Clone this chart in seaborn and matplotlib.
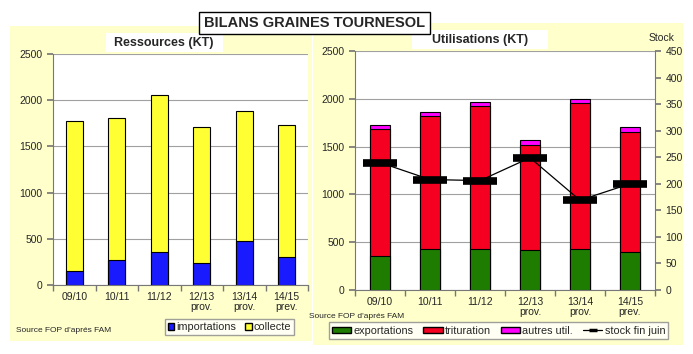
import matplotlib
matplotlib.use("Agg")
import matplotlib.pyplot as plt
from matplotlib.patches import Rectangle, Patch
from matplotlib.lines import Line2D
import seaborn as sns

# data
campagnes = ["09/10", "10/11", "11/12", "12/13\nprov.", "13/14\nprov.", "14/15\nprev."]
importations = [151, 273, 356, 241, 478, 306]
collecte = [1622, 1533, 1698, 1468, 1403, 1424]
exportations = [352, 425, 429, 415, 425, 401]
trituration = [1336, 1399, 1499, 1098, 1528, 1248]
autres_util = [34, 34, 42, 53, 48, 53]
stock_fin_juin = [240, 208, 206, 249, 169, 200]

W, H = 693, 354
sns.set_theme(style="white")
plt.rcParams['font.family'] = ['Liberation Sans', 'DejaVu Sans']

BLUE = "#1a1aff"
YELLOW = "#ffff33"
GREEN = "#1e7d00"
RED = "#f50020"
MAGENTA = "#ff00ff"
PANEL = "#ffffcc"

fig = plt.figure(figsize=(W / 100, H / 100), dpi=100)
fig.patch.set_facecolor("white")

def px(x0, y0, x1, y1):
    #convert pixel box (top-left origin) to figure fraction
    return [x0 / W, 1 - y1 / H, (x1 - x0) / W, (y1 - y0) / H]

def box(x0, y0, x1, y1, fc, ec="none", lw=0.8, z=-5):
    r = Rectangle((x0 / W, 1 - y1 / H), (x1 - x0) / W, (y1 - y0) / H,
                  transform=fig.transFigure, facecolor=fc, edgecolor=ec, linewidth=lw, zorder=z)
    fig.patches.append(r)

# panel backgrounds
box(10, 26, 312, 341, PANEL)
box(313, 23, 683, 345, PANEL)
box(106, 33, 223, 52, "white", z=-4)
box(412, 30, 548, 49, "white", z=-4)
box(199, 12, 430, 34, "white", ec="black", lw=1.0, z=5)
fig.text(314.5 / W, 1 - 23 / H, "BILANS GRAINES TOURNESOL", ha="center", va="center",
         fontsize=10.5, fontweight="bold", zorder=6)
fig.text(164 / W, 1 - 43 / H, "Ressources (KT)", ha="center", va="center", fontsize=9, fontweight="bold")
fig.text(480 / W, 1 - 40 / H, "Utilisations (KT)", ha="center", va="center", fontsize=9, fontweight="bold")
fig.text(662 / W, 1 - 38 / H, "Stock", ha="center", va="center", fontsize=7.5)
fig.text(16 / W, 1 - 331 / H, "Source FOP d'aprés FAM", ha="left", va="center", fontsize=6)
fig.text(309 / W, 1 - 316 / H, "Source FOP d'aprés FAM", ha="left", va="center", fontsize=6)

def style_axis(ax, ymax):
    ax.set_facecolor("white")
    ax.set_ylim(0, ymax)
    ax.set_xlim(-0.5, 5.5)
    ax.set_yticks(range(0, ymax + 1, 500))
    ax.yaxis.grid(True, color="#a0a0a0", linewidth=0.8)
    ax.set_axisbelow(True)
    for s in ["top", "right"]:
        ax.spines[s].set_visible(False)
    for s in ["left", "bottom"]:
        ax.spines[s].set_color("#777777")
        ax.spines[s].set_linewidth(0.8)
    ax.set_xticks(range(6))
    ax.set_xticklabels(campagnes, fontsize=7.5, linespacing=1.05)
    ax.set_xticks([i + 0.5 for i in range(-1, 6)], minor=True)
    ax.tick_params(axis="x", which="major", length=0, pad=5)
    ax.tick_params(axis="x", which="minor", length=4, color="#777777", direction="out", bottom=True)
    ax.tick_params(axis="y", length=4, color="#777777", direction="out", left=True, labelsize=7.5)
    ax.set_xlabel("")
    ax.set_ylabel("")

# left: ressources
ax1 = fig.add_axes(px(53, 54, 308, 285))
total_res = [a + b for a, b in zip(importations, collecte)]
sns.barplot(x=campagnes, y=total_res, color=YELLOW, width=0.4, edgecolor="black", linewidth=0.8,
            saturation=1, ax=ax1)
sns.barplot(x=campagnes, y=importations, color=BLUE, width=0.4, edgecolor="black", linewidth=0.8,
            saturation=1, ax=ax1)
style_axis(ax1, 2500)

ax1.legend(handles=[Patch(facecolor=BLUE, edgecolor="black", label="importations"),
                    Patch(facecolor=YELLOW, edgecolor="black", label="collecte")],
           loc="center", bbox_to_anchor=(229.5 / W, 1 - 327 / H), bbox_transform=fig.transFigure,
           ncol=2, fontsize=7.8, frameon=True, fancybox=False, edgecolor="#888888",
           handlelength=0.6, handleheight=0.6, handletextpad=0.2, columnspacing=0.8,
           borderpad=0.3)

# right: utilisations
ax2 = fig.add_axes(px(355, 51, 655, 290))
total_uti = [a + b + c for a, b, c in zip(exportations, trituration, autres_util)]
exp_trit = [a + b for a, b in zip(exportations, trituration)]
sns.barplot(x=campagnes, y=total_uti, color=MAGENTA, width=0.4, edgecolor="black", linewidth=0.8,
            saturation=1, ax=ax2)
sns.barplot(x=campagnes, y=exp_trit, color=RED, width=0.4, edgecolor="black", linewidth=0.8,
            saturation=1, ax=ax2)
sns.barplot(x=campagnes, y=exportations, color=GREEN, width=0.4, edgecolor="black", linewidth=0.8,
            saturation=1, ax=ax2)
style_axis(ax2, 2500)

ax3 = ax2.twinx()
sns.pointplot(x=campagnes, y=stock_fin_juin, color="black", markers="_", markersize=24,
              markeredgewidth=5.5, linewidth=0.9, ax=ax3)
ax3.set_ylim(0, 450)
ax3.set_xlim(-0.5, 5.5)
ax3.set_yticks(range(0, 451, 50))
ax3.tick_params(axis="y", length=4, color="#777777", direction="out", right=True, labelsize=7.5)
ax3.set_ylabel("")
for s in ["top", "left", "bottom"]:
    ax3.spines[s].set_visible(False)
ax3.spines["right"].set_color("#777777")
ax3.spines["right"].set_linewidth(0.8)
ax3.grid(False)

ax3.legend(handles=[Patch(facecolor=GREEN, edgecolor="black", label="exportations"),
                    Patch(facecolor=RED, edgecolor="black", label="trituration"),
                    Patch(facecolor=MAGENTA, edgecolor="black", label="autres util."),
                    Line2D([0], [0], color="black", linewidth=0.9, marker="_", markersize=6,
                           markeredgewidth=2.5, label="stock fin juin")],
           loc="center", bbox_to_anchor=(498.5 / W, 1 - 330.5 / H), bbox_transform=fig.transFigure,
           ncol=4, fontsize=7.8, frameon=True, fancybox=False, edgecolor="#888888",
           handlelength=1.8, handleheight=0.5, handletextpad=0.2, columnspacing=0.9,
           borderpad=0.3)

fig.savefig("out.png", dpi=100)
